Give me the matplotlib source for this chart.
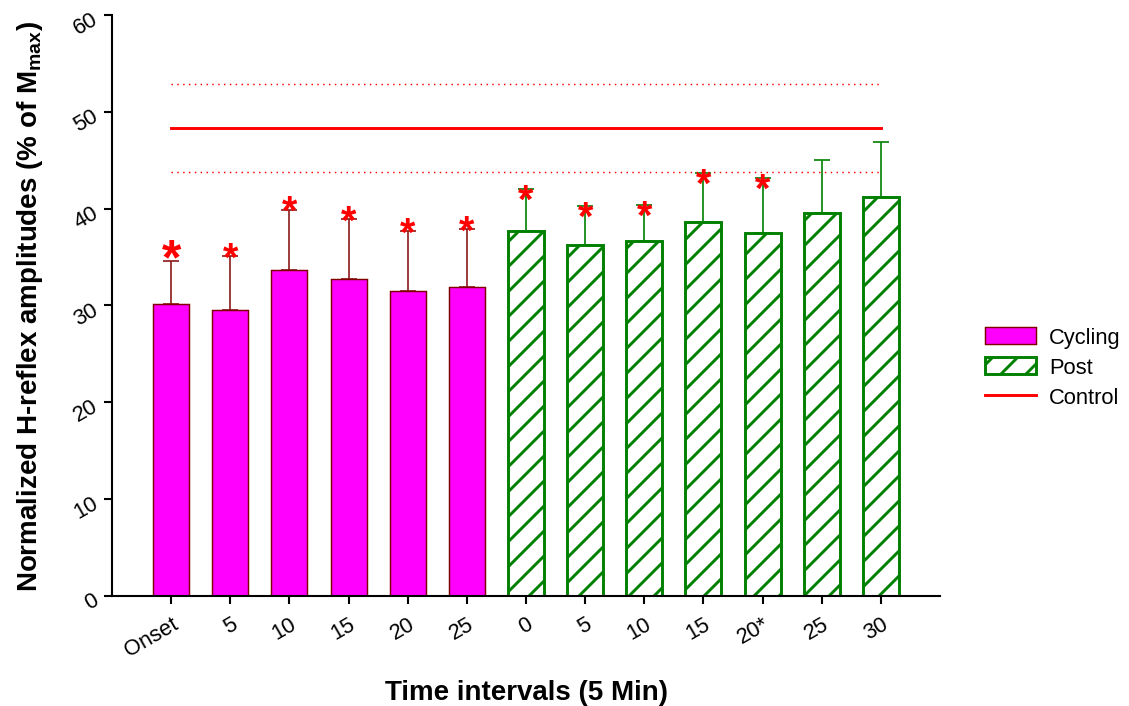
import numpy as np
import matplotlib
matplotlib.use("Agg")
import matplotlib.pyplot as plt
from matplotlib.patches import Patch
from matplotlib.lines import Line2D

plt.rcParams['font.family'] = ['Liberation Sans', 'DejaVu Sans']
plt.rcParams['mathtext.fontset'] = 'custom'
plt.rcParams['mathtext.rm'] = 'Liberation Sans'
plt.rcParams['mathtext.bf'] = 'Liberation Sans:bold'
plt.rcParams['hatch.linewidth'] = 1.4

# data
cycling_labels = ["Onset", "5", "10", "15", "20", "25"]
cycling_mean = [30.2, 29.5, 33.7, 32.7, 31.5, 31.9]
cycling_sd = [4.4, 5.6, 6.2, 6.2, 6.2, 6.0]

post_labels = ["0", "5", "10", "15", "20*", "25", "30"]
post_mean = [37.7, 36.2, 36.7, 38.6, 37.5, 39.5, 41.2]
post_sd = [4.3, 4.1, 3.7, 5.1, 5.7, 5.5, 5.7]

post_star = [True, True, True, True, True, False, False]

control_mean = 48.3
control_sd = 4.55

x_cyc = np.arange(len(cycling_mean))
x_post = np.arange(len(post_mean)) + len(cycling_mean)

fig = plt.figure(figsize=(1129 / 150, 707 / 150), dpi=150)
ax = fig.add_axes([0.0992, 0.1556, 0.7334, 0.8218])

w = 0.61
ax.bar(x_cyc, cycling_mean, w, color="#FF00FF", edgecolor="#800000", linewidth=0.7, zorder=2)
ax.errorbar(x_cyc, cycling_mean, yerr=[np.zeros(len(cycling_sd)), cycling_sd], fmt="none",
            ecolor="#8B1A1A", elinewidth=0.8, capsize=4, capthick=0.8, zorder=1)

ax.bar(x_post, post_mean, w, color="white", edgecolor="#008000", hatch="//", linewidth=1.4, zorder=2)
ax.errorbar(x_post, post_mean, yerr=[np.zeros(len(post_sd)), post_sd], fmt="none",
            ecolor="#008000", elinewidth=0.8, capsize=4, capthick=0.8, zorder=1)

# control mean +/- sd
xs = [0, len(cycling_mean) + len(post_mean) - 1]
ax.plot(xs, [control_mean] * 2, color="red", linewidth=1.4)
ax.plot(xs, [control_mean + control_sd] * 2, color="red", linewidth=0.7, linestyle=(0, (1, 3)))
ax.plot(xs, [control_mean - control_sd] * 2, color="red", linewidth=0.7, linestyle=(0, (1, 3)))

# significance stars
for i, (m, s) in enumerate(zip(cycling_mean, cycling_sd)):
    size = 24 if i == 0 else 19
    ax.annotate("*", (x_cyc[i], m + s), xytext=(0, -6.0 if i == 0 else -6.5), textcoords="offset points",
                ha="center", va="baseline", color="red", fontsize=size, fontweight="bold")
for i, (m, s) in enumerate(zip(post_mean, post_sd)):
    if post_star[i]:
        ax.annotate("*", (x_post[i], m + s), xytext=(0, -11.0), textcoords="offset points",
                    ha="center", va="baseline", color="red", fontsize=19, fontweight="bold")

ax.set_xlim(-1, 13)
ax.set_ylim(0, 60)
ax.set_yticks(np.arange(0, 61, 10))
ax.set_xticks(np.concatenate([x_cyc, x_post]))
ax.set_xticklabels(cycling_labels + post_labels, rotation=30, ha="right", rotation_mode="anchor")
for lab in ax.get_yticklabels():
    lab.set_rotation(30)
    lab.set_ha("right")
    lab.set_rotation_mode("anchor")

ax.tick_params(axis="both", labelsize=10.5, width=1, length=4, direction="out", pad=4)
for sp in ["top", "right"]:
    ax.spines[sp].set_visible(False)
for sp in ["left", "bottom"]:
    ax.spines[sp].set_linewidth(1)

ax.set_xlabel("Time intervals (5 Min)", fontsize=13.3, fontweight="bold", labelpad=9)
ax.set_ylabel(r"Normalized H-reflex amplitudes (% of $\mathbf{M}_{\mathbf{max}}$)",
              fontsize=13.3, fontweight="bold", labelpad=12)

handles = [
    Patch(facecolor="#FF00FF", edgecolor="#800000", linewidth=0.7, label="Cycling"),
    Patch(facecolor="white", edgecolor="#008000", hatch="//", linewidth=1.4, label="Post"),
    Line2D([0], [0], color="red", linewidth=1.4, label="Control"),
]
fig.legend(handles=handles, loc="center left", bbox_to_anchor=(0.869, 0.479), frameon=False,
           fontsize=10.5, handlelength=2.3, handleheight=0.85, labelspacing=0.4, handletextpad=0.6,
           borderaxespad=0, borderpad=0.2)

fig.savefig("out.png", dpi=150)
